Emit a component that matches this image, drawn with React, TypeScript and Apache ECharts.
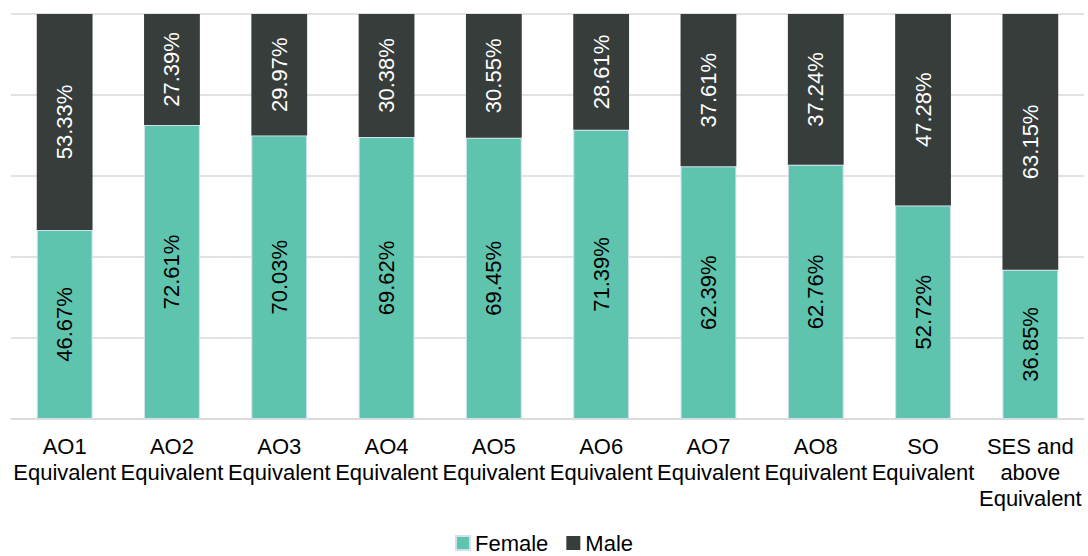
import React, { useEffect, useRef } from "react";
import * as echarts from "echarts";

const categories = [
  "AO1\nEquivalent",
  "AO2\nEquivalent",
  "AO3\nEquivalent",
  "AO4\nEquivalent",
  "AO5\nEquivalent",
  "AO6\nEquivalent",
  "AO7\nEquivalent",
  "AO8\nEquivalent",
  "SO\nEquivalent",
  "SES and\nabove\nEquivalent",
];
const female = [46.67, 72.61, 70.03, 69.62, 69.45, 71.39, 62.39, 62.76, 52.72, 36.85];
const male = [53.33, 27.39, 29.97, 30.38, 30.55, 28.61, 37.61, 37.24, 47.28, 63.15];

const FONT = "'Liberation Sans', Arial, sans-serif";

export default function App() {
  const ref = useRef<HTMLDivElement>(null);
  useEffect(() => {
    if (!ref.current) return;
    const chart = echarts.init(ref.current, undefined, { renderer: "svg" });
    const label = (color: string) => ({
      show: true,
      position: "inside",
      rotate: 90,
      color,
      fontSize: 22,
      fontFamily: FONT,
      formatter: (p: any) => p.value.toFixed(2) + "%",
    });
    chart.setOption({
      animation: false,
      backgroundColor: "#ffffff",
      grid: { left: 11, right: 4, top: 14, bottom: 137, containLabel: false },
      legend: {
        data: ["Female", "Male"],
        top: 527,
        left: "center",
        itemWidth: 14,
        itemHeight: 14,
        itemGap: 18,
        icon: "rect",
        textStyle: { fontSize: 22, fontFamily: FONT, color: "#000" },
      },
      xAxis: {
        type: "category",
        data: categories,
        axisTick: { show: false },
        axisLine: { lineStyle: { color: "#d9d9d9", width: 1.5 } },
        axisLabel: {
          interval: 0,
          margin: 14,
          fontSize: 22,
          lineHeight: 26,
          color: "#000",
          fontFamily: FONT,
        },
      },
      yAxis: {
        type: "value",
        min: 0,
        max: 100,
        interval: 20,
        axisLabel: { show: false },
        axisLine: { show: false },
        axisTick: { show: false },
        splitLine: { lineStyle: { color: "#d9d9d9", width: 1.5 } },
      },
      series: [
        {
          name: "Female",
          type: "bar",
          stack: "total",
          data: female,
          barWidth: "52%",
          itemStyle: { color: "#5fc4ad", borderColor: "#cfe0ef", borderWidth: 1 },
          label: label("#000"),
        },
        {
          name: "Male",
          type: "bar",
          stack: "total",
          data: male,
          barWidth: "52%",
          itemStyle: { color: "#363d3a", borderColor: "#cfe0ef", borderWidth: 0 },
          label: label("#ffffff"),
        },
      ],
    });
    return () => chart.dispose();
  }, []);
  return (
    <div
      ref={ref}
      style={{ position: "absolute", left: 0, top: 0, width: 1088, height: 556 }}
    />
  );
}
